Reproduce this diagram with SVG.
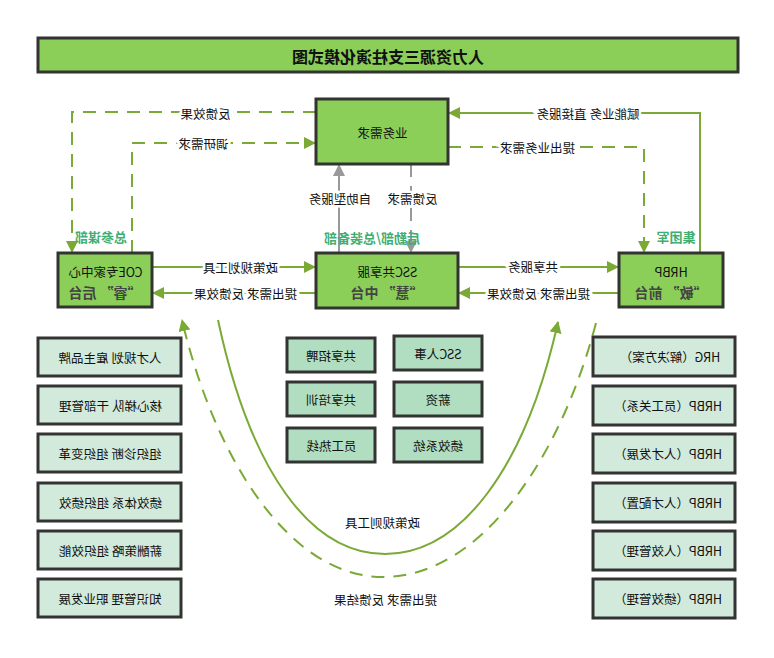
<svg xmlns="http://www.w3.org/2000/svg" width="774" height="658" viewBox="0 0 774 658">
<defs>
<style>
text{font-family:"Noto Sans CJK SC","Liberation Sans",sans-serif;text-anchor:middle;dominant-baseline:central;transform-box:fill-box;transform-origin:center;transform:scaleX(-1);fill:#111;font-size:12.5px}
.main{fill:#8bcf58;stroke:#333;stroke-width:3}
.lite{fill:#d2eadb;stroke:#333;stroke-width:3}
.mid{fill:#b1dec0;stroke:#333;stroke-width:3}
.big{font-size:14px;font-weight:bold;fill:#444}
.grn{font-size:13px;font-weight:bold;fill:#3fae72}
.lbl{stroke:#fff;stroke-width:5;paint-order:stroke}
.c{fill:none;stroke:#7aaa35;stroke-width:2}
.d{stroke-dasharray:13 9}
.g{fill:none;stroke:#999;stroke-width:2}
</style>
<marker id="ag" markerUnits="userSpaceOnUse" markerWidth="12" markerHeight="12" refX="11" refY="6" orient="auto"><path d="M0,0 L12,6 L0,12 z" fill="#7aaa35"/></marker>
<marker id="ay" markerUnits="userSpaceOnUse" markerWidth="12" markerHeight="12" refX="11" refY="6" orient="auto"><path d="M0,0 L12,6 L0,12 z" fill="#999"/></marker>
</defs>
<rect width="774" height="658" fill="#fff"/>
<g id="title"><rect class="main" x="38" y="38" width="700" height="34"/><text x="388" y="56" style="font-size:16px;font-weight:bold">人力资源三支柱演化模式图</text></g>
<g id="connectors">
<path class="c d" d="M316,112 H72 V252" marker-end="url(#ag)"/>
<path class="c d" d="M132,253 V143 H315" marker-end="url(#ag)"/>
<path class="g" d="M339,253 V165" marker-end="url(#ay)"/>
<path class="g d" d="M411,164 V252" marker-end="url(#ay)"/>
<path class="c" d="M700,253 V113 H449" marker-end="url(#ag)"/>
<path class="c d" d="M448,147 H644 V252" marker-end="url(#ag)"/>
<path class="c" d="M152,267 H315" marker-end="url(#ag)"/>
<path class="c" d="M316,293 H153" marker-end="url(#ag)"/>
<path class="c" d="M458,267 H618" marker-end="url(#ag)"/>
<path class="c" d="M619,293 H459" marker-end="url(#ag)"/>
<path class="c" d="M218,320 C250,470 310,554 385,554 C460,554 525,470 558,322" marker-end="url(#ag)"/>
<path class="c d" d="M596,323 C560,460 480,577 383,577 C290,577 215,460 182,320" marker-end="url(#ag)"/>
<text class="lbl" x="205" y="113">反馈效果</text>
<text class="lbl" x="203" y="143">调研需求</text>
<text class="lbl" x="340" y="198">自助型服务</text>
<text class="lbl" x="412" y="198">反馈需求</text>
<text class="lbl" x="588" y="113">赋能业务 直接服务</text>
<text class="lbl" x="537" y="147">提出业务需求</text>
<text class="lbl" x="240" y="267">政策规划工具</text>
<text class="lbl" x="245" y="293">提出需求 反馈效果</text>
<text class="lbl" x="533" y="266">共享服务</text>
<text class="lbl" x="538" y="293">提出需求 反馈效果</text>
<text x="382" y="522">政策规则工具</text>
<text x="385" y="599">提出需求 反馈结果</text>
<text class="grn" x="101" y="236">总参谋部</text>
<text class="grn" x="372" y="237">后勤部/总装备部</text>
<text class="grn" x="676" y="236">集团军</text>
</g>
<g id="biz"><rect class="main" x="316" y="99" width="132" height="65"/><text x="382" y="132">业务需求</text></g>
<g id="coe"><rect class="main" x="58" y="253" width="94" height="54"/><text x="105" y="271">COE专家中心</text><text class="big" x="105" y="292">“睿” 后台</text></g>
<g id="ssc"><rect class="main" x="316" y="253" width="142" height="55"/><text x="387" y="271">SSC共享服</text><text class="big" x="387" y="292">“慧” 中台</text></g>
<g id="hrbp"><rect class="main" x="619" y="253" width="104" height="54"/><text x="671" y="271">HRBP</text><text class="big" x="671" y="292">“敏” 前台</text></g>
<g id="l1"><rect class="lite" x="38" y="338" width="143" height="38"/><text x="110" y="357">人才规划 雇主品牌</text></g>
<g id="l2"><rect class="lite" x="38" y="386" width="143" height="38"/><text x="110" y="405">核心梯队 干部管理</text></g>
<g id="l3"><rect class="lite" x="38" y="434" width="143" height="38"/><text x="110" y="453">组织诊断 组织变革</text></g>
<g id="l4"><rect class="lite" x="38" y="483" width="143" height="38"/><text x="110" y="502">绩效体系 组织绩效</text></g>
<g id="l5"><rect class="lite" x="38" y="531" width="143" height="38"/><text x="110" y="550">薪酬策略 组织效能</text></g>
<g id="l6"><rect class="lite" x="38" y="579" width="143" height="38"/><text x="110" y="598">知识管理 职业发展</text></g>
<g id="c1"><rect class="mid" x="287" y="338" width="88" height="34"/><text x="331" y="355">共享招聘</text></g>
<g id="c2"><rect class="mid" x="287" y="382" width="88" height="34"/><text x="331" y="399">共享培训</text></g>
<g id="c3"><rect class="mid" x="287" y="428" width="88" height="34"/><text x="331" y="445">员工热线</text></g>
<g id="c4"><rect class="mid" x="394" y="336" width="88" height="34"/><text x="438" y="353">SSC人事</text></g>
<g id="c5"><rect class="mid" x="394" y="382" width="88" height="34"/><text x="438" y="399">薪资</text></g>
<g id="c6"><rect class="mid" x="394" y="428" width="88" height="34"/><text x="438" y="445">绩效系统</text></g>
<g id="r1"><rect class="lite" x="593" y="337" width="142" height="39"/><text x="670" y="356">HRG（解决方案）</text></g>
<g id="r2"><rect class="lite" x="593" y="386" width="142" height="39"/><text x="668" y="405">HRBP（员工关系）</text></g>
<g id="r3"><rect class="lite" x="593" y="434" width="142" height="39"/><text x="668" y="453">HRBP（人才发展）</text></g>
<g id="r4"><rect class="lite" x="593" y="483" width="142" height="39"/><text x="668" y="502">HRBP（人才配置）</text></g>
<g id="r5"><rect class="lite" x="593" y="531" width="142" height="39"/><text x="668" y="550">HRBP（人效管理）</text></g>
<g id="r6"><rect class="lite" x="593" y="579" width="142" height="39"/><text x="668" y="598">HRBP（绩效管理）</text></g>
</svg>
